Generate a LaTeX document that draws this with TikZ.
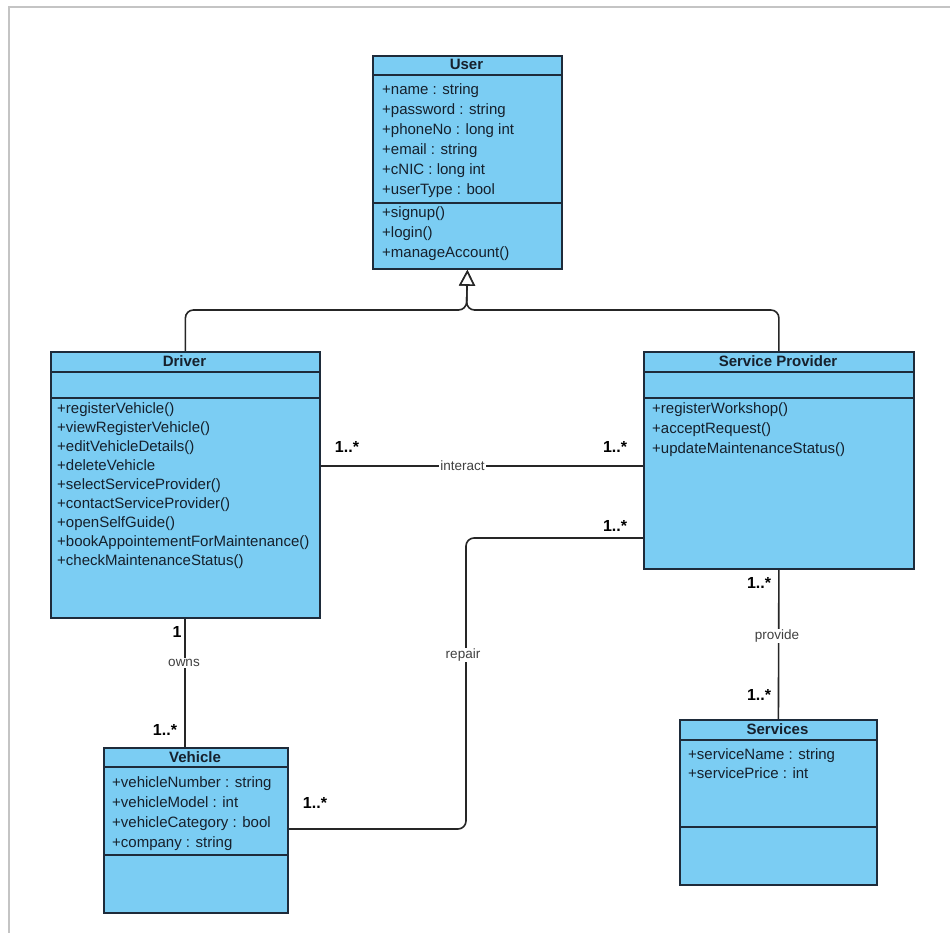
\documentclass[tikz,border=0pt]{standalone}
\usepackage{fontspec}
\setmainfont{Liberation Sans}
\usetikzlibrary{arrows.meta,calc}

\definecolor{umlfill}{HTML}{7BCDF3}
\definecolor{umlline}{HTML}{1E2B3A}
\definecolor{umltext}{HTML}{16202C}
\definecolor{labeltext}{HTML}{404040}
\definecolor{pageframe}{HTML}{C4C4C4}

\begin{document}
\begin{tikzpicture}[x=1pt,y=-1pt,
  umlbox/.style={draw=umlline, fill=umlfill, line width=1.8pt, inner sep=0pt, anchor=north west},
  divider/.style={draw=umlline, line width=1.8pt},
  member/.style={anchor=base west, inner sep=0pt, text=umltext, font=\fontsize{15}{18}\selectfont},
  classname/.style={anchor=base, inner sep=0pt, text=umltext, font=\fontsize{15}{18}\selectfont\bfseries},
  mult/.style={anchor=base, inner sep=0pt, text=black, font=\fontsize{16}{19}\selectfont\bfseries},
  assoc/.style={draw=black!85, line width=1.6pt},
  role/.style={fill=white, inner sep=1pt, text=labeltext, font=\fontsize{13.5}{16}\selectfont},
  inherit/.style={assoc, rounded corners=8pt, -{Triangle[length=16pt,width=16pt,fill=white,line width=1.6pt]}},
]
% page and its frame
\fill[white] (0,0) rectangle (950,933);
\useasboundingbox (0,0) rectangle (950,933);
\draw[pageframe, line width=2pt] (8.5,933) -- (8.5,7) -- (950,7);

% ---------- class boxes ----------
\node[umlbox, minimum width=189pt, minimum height=213pt] (user) at (372,55) {};
\node[umlbox, minimum width=269pt, minimum height=266pt] (driver) at (50,351) {};
\node[umlbox, minimum width=270pt, minimum height=217pt] (sp) at (643,351) {};
\node[umlbox, minimum width=184pt, minimum height=165pt] (vehicle) at (103,747) {};
\node[umlbox, minimum width=197pt, minimum height=165pt] (services) at (679,719) {};

% compartment dividers
\draw[divider] ($(user.north west)+(0,20)$) -- ($(user.north east)+(0,20)$);
\draw[divider] ($(user.north west)+(0,148)$) -- ($(user.north east)+(0,148)$);
\draw[divider] ($(driver.north west)+(0,21)$) -- ($(driver.north east)+(0,21)$);
\draw[divider] ($(driver.north west)+(0,47)$) -- ($(driver.north east)+(0,47)$);
\draw[divider] ($(sp.north west)+(0,21)$) -- ($(sp.north east)+(0,21)$);
\draw[divider] ($(sp.north west)+(0,47)$) -- ($(sp.north east)+(0,47)$);
\draw[divider] ($(vehicle.north west)+(0,20)$) -- ($(vehicle.north east)+(0,20)$);
\draw[divider] ($(vehicle.north west)+(0,108)$) -- ($(vehicle.north east)+(0,108)$);
\draw[divider] ($(services.north west)+(0,21)$) -- ($(services.north east)+(0,21)$);
\draw[divider] ($(services.north west)+(0,108)$) -- ($(services.north east)+(0,108)$);

% ---------- User ----------
\node[classname] (userT) at (466.5,70) {User};
\node[member] (u1) at (382,95) {+name : string};
\node[member] (u2) at (382,115) {+password : string};
\node[member] (u3) at (382,135) {+phoneNo : long int};
\node[member] (u4) at (382,155) {+email : string};
\node[member] (u5) at (382,175) {+cNIC : long int};
\node[member] (u6) at (382,195) {+userType : bool};
\node[member] (u7) at (382,218) {+signup()};
\node[member] (u8) at (382,238) {+login()};
\node[member] (u9) at (382,258) {+manageAccount()};

% ---------- Driver ----------
\node[classname] (driverT) at (184.5,366) {Driver};
\node[member] (d1) at (57,413) {+registerVehicle()};
\node[member] (d2) at (57,432) {+viewRegisterVehicle()};
\node[member] (d3) at (57,451) {+editVehicleDetails()};
\node[member] (d4) at (57,470) {+deleteVehicle};
\node[member] (d5) at (57,489) {+selectServiceProvider()};
\node[member] (d6) at (57,508) {+contactServiceProvider()};
\node[member] (d7) at (57,527) {+openSelfGuide()};
\node[member] (d8) at (57,546) {+bookAppointementForMaintenance()};
\node[member] (d9) at (57,565) {+checkMaintenanceStatus()};

% ---------- Service Provider ----------
\node[classname] (spT) at (778,366) {Service Provider};
\node[member] (s1) at (652,413) {+registerWorkshop()};
\node[member] (s2) at (652,433) {+acceptRequest()};
\node[member] (s3) at (652,453) {+updateMaintenanceStatus()};

% ---------- Vehicle ----------
\node[classname] (vehicleT) at (195,762) {Vehicle};
\node[member] (v1) at (112,787) {+vehicleNumber : string};
\node[member] (v2) at (112,807) {+vehicleModel : int};
\node[member] (v3) at (112,827) {+vehicleCategory : bool};
\node[member] (v4) at (112,847) {+company : string};

% ---------- Services ----------
\node[classname] (servicesT) at (777.5,734) {Services};
\node[member] (sv1) at (688,759) {+serviceName : string};
\node[member] (sv2) at (688,778) {+servicePrice : int};

% ---------- generalisation ----------
\coordinate (gjoin) at (466.5,310);
\draw[inherit] (driver.north) |- (gjoin) -- (user.south);
\draw[inherit] (sp.north) |- (gjoin) -- (user.south);

% ---------- associations ----------
% interact
\draw[assoc] ($(driver.north east)+(0,115)$) -- ($(sp.north west)+(0,115)$)
  node[role, pos=0.44] (interactL) {interact};
\node[mult] (m1) at (347,452) {1..*};
\node[mult] (m2) at (615,452) {1..*};

% repair
\coordinate (rbend) at (466,538);
\draw[assoc, rounded corners=8pt] ($(vehicle.north east)+(0,82)$) -| (rbend) -- ($(sp.north west)+(0,187)$);
\node[role] (repairL) at (463,655) {repair};
\node[mult] (m3) at (615,531) {1..*};
\node[mult] (m4) at (315,808) {1..*};

% owns
\draw[assoc] ($(driver.south)+(-0.5,0)$) -- ($(driver.south |- vehicle.north)+(-0.5,0)$);
\node[role] (ownsL) at (184,663) {owns};
\node[mult] (m5) at (177,637) {1};
\node[mult] (m6) at (165,735) {1..*};

% provide
\draw[assoc] (sp.south) -- (services.north);
\node[role] (provideL) at (777,636) {provide};
\node[mult] (m7) at (759,588) {1..*};
\node[mult] (m8) at (759,700) {1..*};
\end{tikzpicture}
\end{document}
